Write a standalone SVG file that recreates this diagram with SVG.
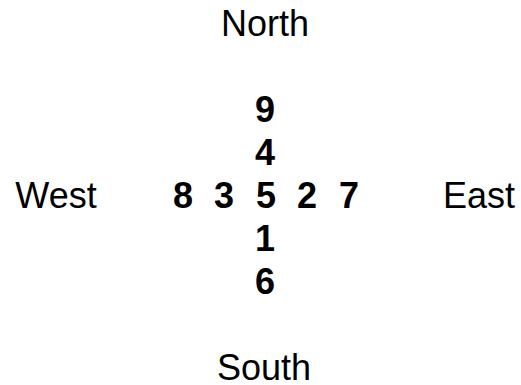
<svg xmlns="http://www.w3.org/2000/svg" width="521" height="385" viewBox="0 0 521 385">
<style>
.l{font-family:"Liberation Sans",Arial,sans-serif;font-size:36px;fill:#000;text-anchor:middle}
.n{font-family:"Liberation Sans",Arial,sans-serif;font-size:36px;font-weight:bold;fill:#000;text-anchor:middle}
</style>
<rect width="521" height="385" fill="#fff"/>
<g id="labels">
<text class="l" x="265" y="36">North</text>
<text class="l" x="264" y="380">South</text>
<text class="l" x="56" y="208">West</text>
<text class="l" x="479" y="208">East</text>
</g>
<g id="numbers">
<text class="n" x="265" y="122">9</text>
<text class="n" x="265" y="165">4</text>
<text class="n" x="183" y="208">8</text>
<text class="n" x="224" y="208">3</text>
<text class="n" x="266" y="208">5</text>
<text class="n" x="307" y="208">2</text>
<text class="n" x="349" y="208">7</text>
<text class="n" x="265" y="251">1</text>
<text class="n" x="265" y="294">6</text>
</g>
</svg>
